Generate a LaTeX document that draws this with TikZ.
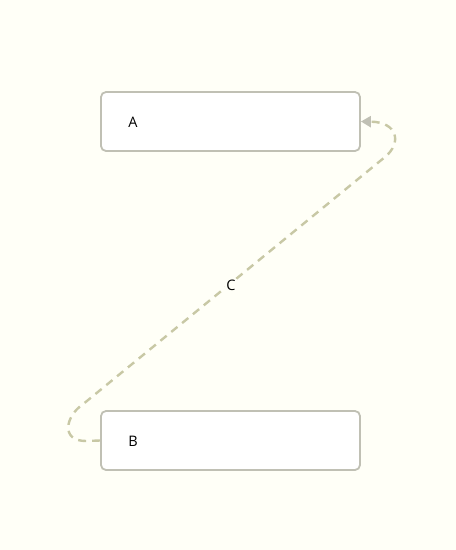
\documentclass[tikz,border=0pt]{standalone}
\usepackage{fontspec}
\setmainfont{Open Sans}
\usetikzlibrary{arrows.meta}
\definecolor{bgc}{RGB}{255,255,247}
\definecolor{boxc}{RGB}{192,192,180}
\definecolor{linec}{RGB}{200,200,165}
\begin{document}
\begin{tikzpicture}[x=1pt,y=-1pt,
  box/.style={draw=boxc,line width=1.8pt,fill=white,rounded corners=5pt,minimum width=259pt,minimum height=59pt,inner sep=0pt},
  lbl/.style={font=\fontsize{14.5}{17}\selectfont,inner sep=1pt},
  conn/.style={draw=linec,line width=2.4pt,dash pattern=on 8pt off 6pt,-{Triangle[length=10pt,width=11pt,fill=boxc,color=boxc]}}]
\fill[bgc] (0,0) rectangle (456,550);
\useasboundingbox (0,0) rectangle (456,550);
\node[box] (A) at (230.5,121.5) {};
\node[box] (B) at (230.5,440.5) {};
\node[lbl] (ta) at (133,122) {A};
\node[lbl] (tb) at (133,441) {B};
\coordinate (p1) at (86,441);
\coordinate (p2) at (82,405);
\coordinate (p3) at (385,157);
\draw[conn] (B.west) -- (p1) .. controls (60,441) and (66,416) .. (p2) -- (p3) .. controls (402,143) and (398,122) .. (A.east);
\node[lbl,fill=bgc] (c) at (231,285) {C};
\end{tikzpicture}
\end{document}
